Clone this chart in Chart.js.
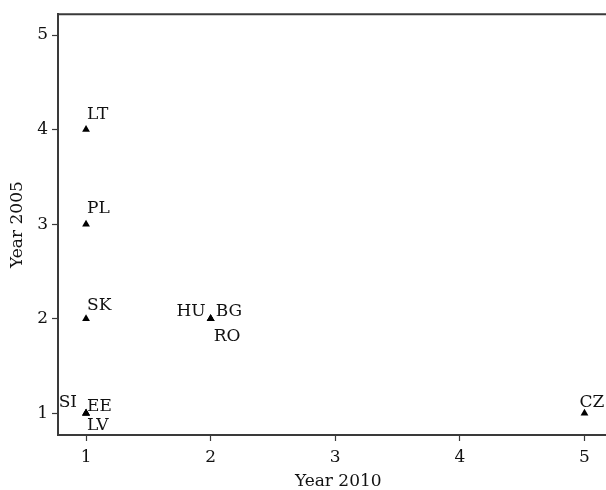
<!DOCTYPE html>
<html>
<head>
<meta charset="utf-8">
<script src="https://cdn.jsdelivr.net/npm/chart.js@4/dist/chart.umd.min.js"></script>
<style>
  html, body { margin: 0; padding: 0; background: #fff; overflow: hidden; }
  #wrap { width: 606px; height: 490px; overflow: hidden; }
</style>
</head>
<body>
<div id="wrap"><canvas id="c" width="623" height="490"></canvas></div>
<script>
// ---- data ----
const countries = ['LT', 'PL', 'SK', 'SI', 'EE', 'LV', 'HU', 'BG', 'RO', 'CZ'];
const year2010 = [1, 1, 1, 1, 1, 1, 2, 2, 2, 5];
const year2005 = [4, 3, 2, 1, 1, 1, 2, 2, 2, 1];
const xTicks = [1, 2, 3, 4, 5];
const yTicks = [1, 2, 3, 4, 5];
const xTitle = 'Year 2010';
const yTitle = 'Year 2005';

// label placement (style): [dx, dy, align]
const labelPlacement = {
  LT: [1, -11, 'left'], PL: [1, -11, 'left'], SK: [1, -9, 'left'],
  SI: [-9, -6, 'right'], EE: [1, -2, 'left'], LV: [1, 17, 'left'],
  HU: [-5, -3, 'right'], BG: [5, -3, 'left'], RO: [3, 22, 'left'],
  CZ: [-5, -6, 'left']
};

const FONT = 'DejaVu Serif';
const FS = 17;
const TFS = 17;
const INK = '#111';
const AXIS = '#3a3a3a';

const points = countries.map((c, i) => ({ x: year2010[i], y: year2005[i], label: c }));

const labelPlugin = {
  id: 'pointLabels',
  afterDatasetsDraw(chart) {
    const ctx = chart.ctx;
    const xs = chart.scales.x, ys = chart.scales.y;
    ctx.save();
    ctx.font = FS + 'px "' + FONT + '"';
    ctx.fillStyle = INK;
    ctx.textBaseline = 'alphabetic';
    points.forEach(p => {
      const pl = labelPlacement[p.label] || [2, -8, 'left'];
      const px = xs.getPixelForValue(p.x), py = ys.getPixelForValue(p.y);
      ctx.textAlign = pl[2];
      ctx.fillText(p.label, px + pl[0], py + pl[1]);
    });
    ctx.restore();
  }
};

const framePlugin = {
  id: 'frameTop',
  afterDraw(chart) {
    const a = chart.chartArea, ctx = chart.ctx;
    ctx.save();
    ctx.strokeStyle = AXIS;
    ctx.lineWidth = 2;
    ctx.beginPath();
    ctx.moveTo(a.left - 1, a.top);
    ctx.lineTo(a.right, a.top);
    ctx.stroke();
    ctx.restore();
  }
};

new Chart(document.getElementById('c'), {
  type: 'scatter',
  data: {
    datasets: [{
      data: points,
      pointStyle: 'triangle',
      pointRadius: 4.5,
      pointHoverRadius: 4.5,
      backgroundColor: '#000',
      borderColor: '#000',
      borderWidth: 0
    }]
  },
  options: {
    responsive: false,
    animation: false,
    events: [],
    layout: { padding: { top: 12, right: 0, left: 0, bottom: 0 } },
    plugins: { legend: { display: false }, tooltip: { enabled: false } },
    scales: {
      x: {
        type: 'linear',
        min: 0.775, max: 5.273,
        afterBuildTicks: s => { s.ticks = xTicks.map(v => ({ value: v })); },
        afterFit: s => { s.height = 55; },
        grid: { drawOnChartArea: false, drawTicks: true, tickLength: 6, tickWidth: 1.2, tickColor: AXIS },
        border: { display: true, color: AXIS, width: 2 },
        ticks: { color: INK, font: { family: FONT, size: TFS }, padding: 6, maxRotation: 0 },
        title: { display: true, text: xTitle, color: INK, font: { family: FONT, size: FS, lineHeight: 1 }, padding: { top: 0, bottom: 0 } }
      },
      y: {
        type: 'linear',
        min: 0.77, max: 5.22,
        afterBuildTicks: s => { s.ticks = yTicks.map(v => ({ value: v })); },
        afterFit: s => { s.width = 58; },
        grid: { drawOnChartArea: false, drawTicks: true, tickLength: 6, tickWidth: 1.2, tickColor: AXIS },
        border: { display: true, color: AXIS, width: 2 },
        ticks: { color: INK, font: { family: FONT, size: TFS }, padding: 4 },
        title: { display: true, text: yTitle, color: INK, font: { family: FONT, size: FS, lineHeight: 1 }, padding: { top: 9, bottom: 0 } }
      }
    }
  },
  plugins: [labelPlugin, framePlugin]
});
</script>
</body>
</html>
